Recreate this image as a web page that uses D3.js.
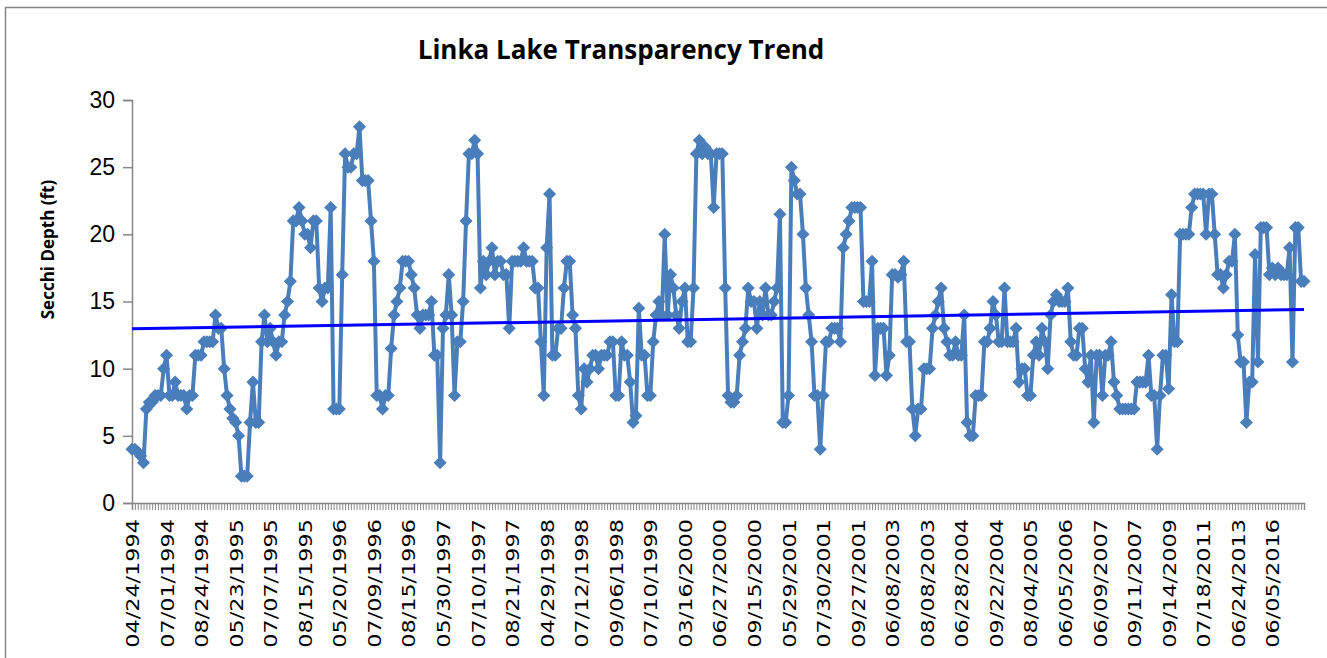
<!DOCTYPE html>
<html>
<head>
<meta charset="utf-8">
<script src="https://cdn.jsdelivr.net/npm/d3@7"></script>
<style>
  body { margin: 0; background: #fff; }
  svg { display: block; }
</style>
</head>
<body>
<div class="chart"></div>
<script>
// chart data
var tickLabels = [
  "04/24/1994", "07/01/1994", "08/24/1994", "05/23/1995", "07/07/1995", "08/15/1995",
  "05/20/1996", "07/09/1996", "08/15/1996", "05/30/1997", "07/10/1997", "08/21/1997",
  "04/29/1998", "07/12/1998", "09/06/1998", "07/10/1999", "03/16/2000", "06/27/2000",
  "09/15/2000", "05/29/2001", "07/30/2001", "09/27/2001", "06/08/2003", "08/08/2003",
  "06/28/2004", "09/22/2004", "08/04/2005", "06/05/2006", "06/09/2007", "09/11/2007",
  "09/14/2009", "07/18/2011", "06/24/2013", "06/05/2016"
];
var labelEvery = 12;

var depth = [
  4, 4, 3.8, 3.5, 3, 7, 7.5, 7.5, 8, 8, 8, 10,
  11, 8, 8, 9, 8, 8, 8, 7, 8, 8, 11, 11,
  11, 12, 12, 12, 12, 14, 13, 13, 10, 8, 7, 6.3,
  6, 5, 2, 2, 2, 6, 9, 6, 6, 12, 14, 12,
  13, 12, 11, 12, 12, 14, 15, 16.5, 21, 21, 22, 21,
  20, 20, 19, 21, 21, 16, 15, 16, 16, 22, 7, 7,
  7, 17, 26, 25, 25, 26, 26, 28, 24, 24, 24, 21,
  18, 8, 8, 7, 8, 8, 11.5, 14, 15, 16, 18, 18,
  18, 17, 16, 14, 13, 14, 14, 14, 15, 11, 11, 3,
  13, 14, 17, 14, 8, 12, 12, 15, 21, 26, 26, 27,
  26, 16, 18, 17, 18, 19, 17, 18, 18, 17, 17, 13,
  18, 18, 18, 18, 19, 18, 18, 18, 16, 16, 12, 8,
  19, 23, 11, 11, 13, 13, 16, 18, 18, 14, 13, 8,
  7, 10, 9, 10, 11, 11, 10, 11, 11, 11, 12, 12,
  8, 8, 12, 11, 11, 9, 6, 6.5, 14.5, 11, 11, 8,
  8, 12, 14, 15, 14, 20, 14, 17, 16, 14, 13, 15,
  16, 12, 12, 16, 26, 27, 26, 26.5, 26, 26, 22, 26,
  26, 26, 16, 8, 7.5, 7.5, 8, 11, 12, 13, 16, 15,
  15, 13, 15, 14, 16, 14, 14, 15, 16, 21.5, 6, 6,
  8, 25, 24, 23, 23, 20, 16, 14, 12, 8, 8, 4,
  8, 12, 12, 13, 13, 13, 12, 19, 20, 21, 22, 22,
  22, 22, 15, 15, 15, 18, 9.5, 13, 13, 13, 9.5, 11,
  17, 17, 16.8, 17, 18, 12, 12, 7, 5, 7, 7, 10,
  10, 10, 13, 14, 15, 16, 13, 12, 11, 11, 12, 11,
  11, 14, 6, 5, 5, 8, 8, 8, 12, 12, 13, 15,
  14, 12, 12, 16, 12, 12, 12, 13, 9, 10, 10, 8,
  8, 11, 12, 11, 13, 12, 10, 14, 15, 15.5, 15, 15,
  15, 16, 12, 11, 11, 13, 13, 10, 9, 11, 6, 11,
  11, 8, 11, 11, 12, 9, 8, 7, 7, 7, 7, 7,
  7, 9, 9, 9, 9, 11, 8, 8, 4, 8, 11, 11,
  8.5, 15.5, 12, 12, 20, 20, 20, 20, 22, 23, 23, 23,
  23, 20, 23, 23, 20, 17, 17, 16, 17, 18, 18, 20,
  12.5, 10.5, 10.5, 6, 9, 9, 18.5, 10.5, 20.5, 20.5, 20.5, 17,
  17.5, 17, 17.5, 17, 17, 17, 19, 10.5, 20.5, 20.5, 16.5, 16.5
];

var yTicks = [0, 5, 10, 15, 20, 25, 30];

var svgWidth = 1327;
var svgHeight = 658;
var margin = { top: 100, right: 23, bottom: 155, left: 132 };
var width = svgWidth - margin.left - margin.right;
var height = svgHeight - margin.top - margin.bottom;

var svg = d3.select(".chart")
  .append("svg")
  .attr("width", svgWidth)
  .attr("height", svgHeight);

// chart area border
svg.append("rect")
  .attr("x", 5.5)
  .attr("y", 7.5)
  .attr("width", svgWidth + 10)
  .attr("height", svgHeight + 10)
  .attr("fill", "#fff")
  .attr("stroke", "#868686")
  .attr("stroke-width", 1.5);

svg.append("text")
  .attr("x", 621)
  .attr("y", 59)
  .attr("text-anchor", "middle")
  .style("font-family", "'Open Sans', sans-serif")
  .style("font-weight", "bold")
  .style("font-size", "26px")
  .text("Linka Lake Transparency Trend");

var chartGroup = svg.append("g")
  .attr("transform", `translate(${margin.left}, ${margin.top})`);

var idx = d3.range(depth.length);

var xScale = d3.scalePoint()
  .domain(idx)
  .range([0, width]);

var yScale = d3.scaleLinear()
  .domain([0, 30])
  .range([height, 0]);

// y axis
var leftAxis = d3.axisLeft(yScale)
  .tickValues(yTicks)
  .tickSize(9)
  .tickPadding(8);

var yAxisG = chartGroup.append("g").call(leftAxis);
yAxisG.select(".domain").attr("stroke", "#868686").attr("stroke-width", 1.5);
yAxisG.selectAll(".tick line").attr("stroke", "#868686").attr("stroke-width", 1.5);
yAxisG.selectAll("text")
  .style("font-family", "'Liberation Sans', sans-serif")
  .style("font-size", "23px")
  .attr("fill", "#000");

// x axis, one tick per sample, a label every 12th
var bottomAxis = d3.axisBottom(xScale)
  .tickValues(idx)
  .tickSize(7)
  .tickFormat(function(i) { return i % labelEvery === 0 ? tickLabels[i / labelEvery] : ""; });

var xAxisG = chartGroup.append("g")
  .attr("transform", `translate(0, ${height})`)
  .call(bottomAxis);
xAxisG.select(".domain").attr("stroke", "#868686").attr("stroke-width", 1.5);
xAxisG.selectAll(".tick line").attr("stroke", "#868686").attr("stroke-width", 1);
// the labels in the picture are drawn stretched along their length
xAxisG.selectAll("text")
  .attr("transform", "rotate(-90) scale(1.24, 1)")
  .attr("x", -13)
  .attr("y", 0)
  .attr("dy", "0.36em")
  .style("text-anchor", "end")
  .style("font-family", "'DejaVu Sans', sans-serif")
  .style("font-size", "18px")
  .attr("fill", "#000");

// y axis title
chartGroup.append("text")
  .attr("transform", "rotate(-90)")
  .attr("x", -(height / 2) + 52)
  .attr("y", -78)
  .attr("text-anchor", "middle")
  .style("font-family", "'Open Sans', sans-serif")
  .style("font-weight", "bold")
  .style("font-size", "17px")
  .text("Secchi Depth (ft)");

// data line
var line = d3.line()
  .x(function(d, i) { return xScale(i); })
  .y(function(d) { return yScale(d); });

chartGroup.append("path")
  .datum(depth)
  .attr("d", line)
  .attr("fill", "none")
  .attr("stroke", "#4a7ebb")
  .attr("stroke-width", 4)
  .attr("stroke-linejoin", "round");

var diamond = d3.symbol().type(d3.symbolSquare).size(60);

chartGroup.selectAll("path.marker")
  .data(depth)
  .enter()
  .append("path")
  .attr("class", "marker")
  .attr("d", diamond)
  .attr("transform", function(d, i) { return `translate(${xScale(i)}, ${yScale(d)}) rotate(45)`; })
  .attr("fill", "#4a7ebb")
  .attr("stroke", "#4a7ebb")
  .attr("stroke-width", 1.5);

// linear trend line (least squares over the sample index)
var n = depth.length;
var mx = d3.mean(idx);
var my = d3.mean(depth);
var sxy = d3.sum(idx, function(i) { return (i - mx) * (depth[i] - my); });
var sxx = d3.sum(idx, function(i) { return (i - mx) * (i - mx); });
var slope = sxy / sxx;
var intercept = my - slope * mx;

chartGroup.append("line")
  .attr("x1", xScale(0))
  .attr("y1", yScale(intercept))
  .attr("x2", xScale(n - 1))
  .attr("y2", yScale(intercept + slope * (n - 1)))
  .attr("stroke", "#0000ff")
  .attr("stroke-width", 3);
</script>
</body>
</html>
